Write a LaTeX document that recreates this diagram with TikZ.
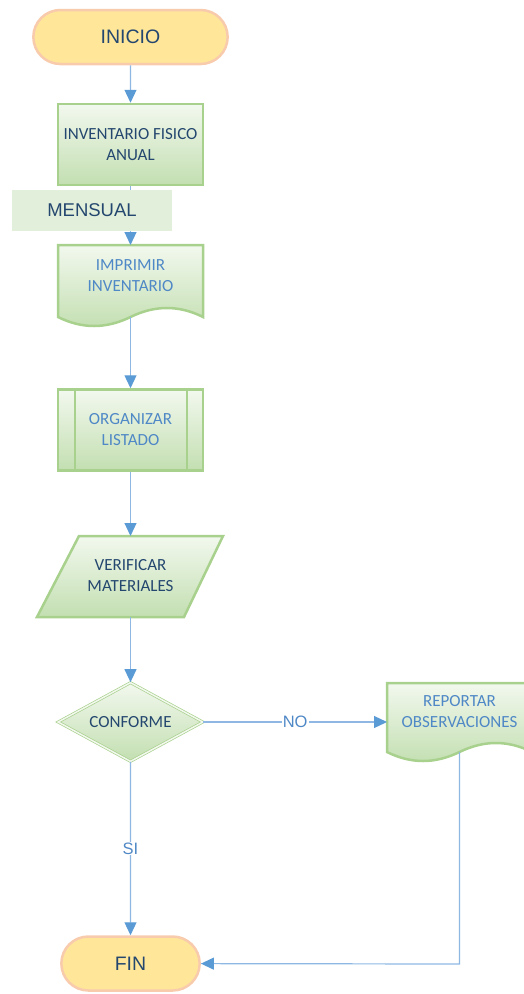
\documentclass[tikz,border=0pt]{standalone}
\usepackage{fontspec}
\setmainfont{Carlito}
\newfontfamily\arialfont{Liberation Sans}
\usetikzlibrary{shapes.geometric,shapes.misc,arrows.meta}

\definecolor{verde}{HTML}{A9D18E}
\definecolor{verdeclaro}{HTML}{F2F8EE}
\definecolor{verdeoscuro}{HTML}{C3DFB1}
\definecolor{mensualfondo}{HTML}{E2EFDA}
\definecolor{amarillo}{HTML}{FFE699}
\definecolor{naranja}{HTML}{F8CBAD}
\definecolor{linea}{HTML}{8EB8E3}
\definecolor{punta}{HTML}{5B9BD5}
\definecolor{textoscuro}{HTML}{24476F}
\definecolor{textclaro}{HTML}{4F88C6}

\tikzset{
  terminal/.style={rounded rectangle, draw=naranja, line width=2.5pt, fill=amarillo,
    minimum height=54pt, font=\arialfont\fontsize{19.5}{21}\selectfont, text=textoscuro},
  caja/.style={rectangle, draw=verde, line width=2.5pt, top color=verdeclaro, bottom color=verdeoscuro,
    minimum width=145pt, minimum height=81pt, align=center, font=\fontsize{17}{21}\selectfont},
  rotulo/.style={align=center, font=\fontsize{17}{21}\selectfont, inner sep=0pt},
  conector/.style={draw=linea, line width=1.2pt, -{Triangle[length=13pt,width=12pt,color=punta]}},
  etiqueta/.style={fill=white, inner sep=1pt, text=textclaro, font=\arialfont\fontsize{16.5}{18}\selectfont}
}

\begin{document}
\begin{tikzpicture}[x=1pt,y=1pt,yscale=-1]
  \useasboundingbox (0,0) rectangle (523,994);

  % Inicio y fin
  \node[terminal, minimum width=201pt] (inicio) at (130.5,37) {INICIO};
  \node[terminal, minimum width=145pt] (fin) at (130.5,963.5) {FIN};

  % Inventario fisico anual
  \node[caja, text=textoscuro] (inventario) at (130.5,144.5) {INVENTARIO FISICO\\ANUAL};

  % Imprimir inventario (documento)
  \path[draw=verde, line width=2.5pt, top color=verdeclaro, bottom color=verdeoscuro]
    (58,245) -- (203,245) -- (203,317)
    .. controls (179,305) and (155,305) .. (130.5,317)
    .. controls (106,329) and (82,329) .. (58,317) -- cycle;
  \node[rotulo, text=textclaro] (imprimir) at (130.5,276) {IMPRIMIR\\INVENTARIO};
  \coordinate (imprimirarriba) at (130.5,245);
  \coordinate (imprimirabajo) at (130.5,317);

  % Organizar listado (proceso predefinido)
  \node[caja, text=textclaro] (organizar) at (130.5,430) {ORGANIZAR\\LISTADO};
  \draw[verde, line width=2.5pt] (75,389) -- (75,471) (187,389) -- (187,471);

  % Verificar materiales (datos)
  \path[draw=verde, line width=2.5pt, top color=verdeclaro, bottom color=verdeoscuro]
    (79,536) -- (223,536) -- (184,617) -- (37,617) -- cycle;
  \node[rotulo, text=textoscuro] (verificar) at (130.5,576) {VERIFICAR\\MATERIALES};
  \coordinate (verificararriba) at (130.5,536);
  \coordinate (verificarabajo) at (130.5,617);

  % Conforme (decision)
  \node[diamond, draw=verde, line width=0.7pt, double=verdeclaro, double distance=1.5pt,
    top color=verdeclaro, bottom color=verdeoscuro, minimum width=145pt, minimum height=79pt,
    aspect=1.83, inner sep=0pt, font=\fontsize{17}{20}\selectfont, text=textoscuro] (conforme) at (130.5,722) {CONFORME};

  % Reportar observaciones (documento)
  \path[draw=verde, line width=2.5pt, top color=verdeclaro, bottom color=verdeoscuro]
    (387,683) -- (532,683) -- (532,752)
    .. controls (508,740) and (484,740) .. (459.5,752)
    .. controls (435,764) and (411,764) .. (387,752) -- cycle;
  \node[rotulo, text=textclaro] (reportar) at (459.5,712) {REPORTAR\\OBSERVACIONES};
  \coordinate (reportarizq) at (387,722);
  \coordinate (reportarabajo) at (459.5,752);
  \coordinate (esquina) at (459.5,964);

  % Conectores
  \draw[conector] (inicio) -- (inventario);
  \draw[conector] (inventario) -- (imprimirarriba);
  \draw[conector] (imprimirabajo) -- (organizar);
  \draw[conector] (organizar) -- (verificararriba);
  \draw[conector] (verificarabajo) -- (conforme);
  \draw[conector] (conforme) -- node[etiqueta] {NO} (reportarizq);
  \draw[conector] (conforme) -- node[etiqueta] {SI} (fin);
  \draw[conector] (reportarabajo) -- (esquina) -- (fin);

  % Mensual
  \node[fill=mensualfondo, minimum width=160pt, minimum height=41pt, text=textoscuro,
    font=\arialfont\fontsize{18.5}{20}\selectfont] (mensual) at (92,210.5) {MENSUAL};
\end{tikzpicture}
\end{document}
